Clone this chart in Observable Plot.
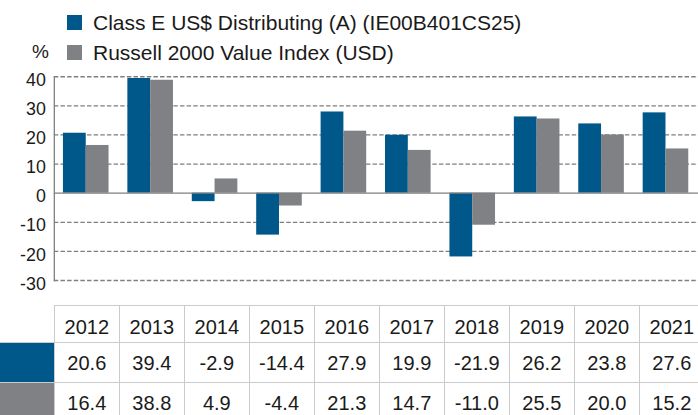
<!DOCTYPE html>
<html><head><meta charset="utf-8">
<script src="https://cdn.jsdelivr.net/npm/d3@7"></script>
<script src="https://cdn.jsdelivr.net/npm/@observablehq/plot@0.6"></script>
<style>
html,body{margin:0;padding:0;background:#fff;overflow:hidden;}
#wrap{position:relative;width:698px;height:415px;overflow:hidden;font-family:"Liberation Sans",Arial,sans-serif;color:#1a1a1a;}
.item{position:absolute;left:67px;height:26px;display:flex;align-items:center;font-size:21px;white-space:nowrap;}
.sw{width:15px;height:15px;margin-right:11px;flex:none;}
#pct{position:absolute;left:32px;top:41px;font-size:19px;}
#chart{position:absolute;left:0;top:62px;line-height:0;}
table{position:absolute;left:0;top:305px;border-collapse:collapse;table-layout:fixed;width:704.3px;}
td{border:1.5px solid #cbcbcb;text-align:center;font-size:20px;padding:0;line-height:1;}
tr.h td{height:37px;padding-top:5px;box-sizing:border-box;}
tr.r td{height:39px;}
td.blank{border-top:none;border-left:none;}
td.swc{border-left:none;}
</style>
</head><body>
<div id="wrap">
  <div id="legend"></div>
  <div id="pct">%</div>
  <div id="chart"></div>
  <table id="tbl"></table>
</div>
<script>
const years = ["2012","2013","2014","2015","2016","2017","2018","2019","2020","2021"];
const seriesNames = ["Class E US$ Distributing (A) (IE00B401CS25)", "Russell 2000 Value Index (USD)"];
const fundValues = [20.6, 39.4, -2.9, -14.4, 27.9, 19.9, -21.9, 26.2, 23.8, 27.6];
const indexValues = [16.4, 38.8, 4.9, -4.4, 21.3, 14.7, -11.0, 25.5, 20.0, 15.2];
const yTicks = [-30, -20, -10, 0, 10, 20, 30, 40];
const colors = ["#00578a", "#808184"];

// legend
const legend = d3.select("#legend");
seriesNames.forEach((name, i) => {
  const it = legend.append("div").attr("class", "item").style("top", (9.5 + i * 30) + "px");
  it.append("div").attr("class", "sw").style("background", colors[i]);
  it.append("span").text(name);
});

const data = years.flatMap((yr, i) => [
  {year: yr, series: seriesNames[0], value: fundValues[i]},
  {year: yr, series: seriesNames[1], value: indexValues[i]}
]);

const chart = Plot.plot({
  width: 704.3, height: 243,
  marginLeft: 54.3, marginRight: 0, marginTop: 14.4, marginBottom: 23,
  x: {type: "band", domain: years, padding: 0, axis: null},
  y: {domain: [-30, 40], axis: null},
  color: {domain: seriesNames, range: colors},
  style: {fontFamily: "'Liberation Sans', Arial, sans-serif", fontSize: "18px", color: "#1a1a1a", background: "transparent", overflow: "visible", display: "block"},
  marks: [
    Plot.ruleY(yTicks.filter(d => d !== 0), {stroke: "#7f7f7f", strokeDasharray: "4.5,2.2", strokeWidth: 1.3, strokeOpacity: 1}),
    Plot.barY(data.filter(d => d.series === seriesNames[0]), {x: "year", y: "value", fill: "series", insetLeft: 9.5, insetRight: 32.5}),
    Plot.barY(data.filter(d => d.series === seriesNames[1]), {x: "year", y: "value", fill: "series", insetLeft: 32.5, insetRight: 9.5}),
    Plot.ruleY([0], {stroke: "#7f7f7f", strokeWidth: 1.3, strokeOpacity: 1}),
    Plot.axisY({ticks: yTicks, tickSize: 0, tickPadding: 8.5, dy: 3.5, tickFormat: d => String(d), fontSize: 18, fill: "#1a1a1a", label: null}),
    Plot.frame({anchor: "left", stroke: "#7f7f7f", strokeWidth: 1.3, strokeOpacity: 1})
  ]
});
document.getElementById("chart").appendChild(chart);

// table
const tbl = d3.select("#tbl");
const cg = tbl.append("colgroup");
cg.append("col").style("width", "54.3px");
years.forEach(() => cg.append("col").style("width", "65px"));
const hr = tbl.append("tr").attr("class", "h");
hr.append("td").attr("class", "blank");
years.forEach(y => hr.append("td").text(y));
[fundValues, indexValues].forEach((vals, i) => {
  const tr = tbl.append("tr").attr("class", "r");
  tr.append("td").attr("class", "swc").style("background", colors[i]);
  vals.forEach(v => tr.append("td").text(v.toFixed(1)));
});
</script>
</body></html>
